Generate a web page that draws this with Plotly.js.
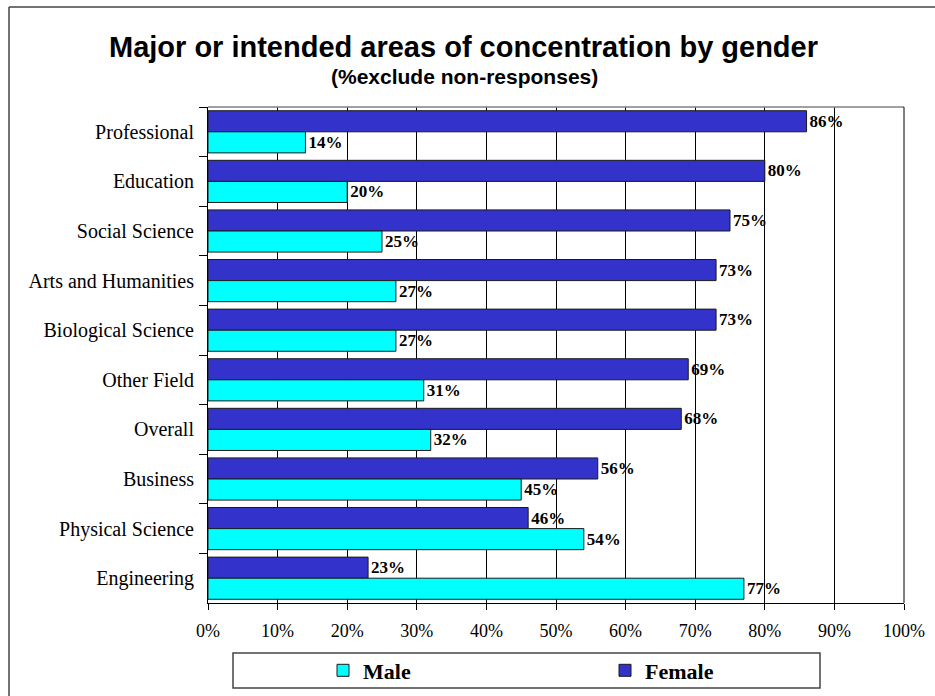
<!DOCTYPE html>
<html>
<head>
<meta charset="utf-8">
<script src="https://cdn.plot.ly/plotly-3.0.1.min.js"></script>
<style>
  html, body { margin: 0; padding: 0; background: #fff; }
  #chart { width: 935px; height: 696px; }
</style>
</head>
<body>
<div id="chart"></div>
<script>
// ---- data (top-to-bottom order as in the reference) ----
var categories = ["Professional", "Education", "Social Science", "Arts and Humanities",
  "Biological Science", "Other Field", "Overall", "Business", "Physical Science", "Engineering"];
var femaleValues = [0.86, 0.80, 0.75, 0.73, 0.73, 0.69, 0.68, 0.56, 0.46, 0.23];
var maleValues   = [0.14, 0.20, 0.25, 0.27, 0.27, 0.31, 0.32, 0.45, 0.54, 0.77];
var xTickValues  = [0, 0.1, 0.2, 0.3, 0.4, 0.5, 0.6, 0.7, 0.8, 0.9, 1.0];
var xTickLabels  = ["0%", "10%", "20%", "30%", "40%", "50%", "60%", "70%", "80%", "90%", "100%"];

var W = 935, H = 696;
var L = 208, R = 904, T = 107, B = 603;
var pw = R - L, ph = B - T;
function px(x) { return (x - L) / pw; }
function py(y) { return (B - y) / ph; }

var serif = "Liberation Serif, Times New Roman, serif";
var sans = "Liberation Sans, Arial, sans-serif";

var labelFont = { family: serif, size: 17, color: "#000", weight: "bold" };
var legendFont = { family: serif, size: 22, color: "#000" };

var traces = [
  {
    type: "bar", orientation: "h", name: "<b>Female</b>", legend: "legend2",
    y: categories, x: femaleValues,
    marker: { color: "#3333CC", line: { color: "#1a1a1a", width: 1 } },
    texttemplate: "<b>%{x:.0%}</b>", textposition: "outside",
    textfont: labelFont, constraintext: "none", cliponaxis: false,
    hoverinfo: "skip"
  },
  {
    type: "bar", orientation: "h", name: "<b>Male</b>", legend: "legend",
    y: categories, x: maleValues,
    marker: { color: "#00FFFF", line: { color: "#1a1a1a", width: 1 } },
    texttemplate: "<b>%{x:.0%}</b>", textposition: "outside",
    textfont: labelFont, constraintext: "none", cliponaxis: false,
    hoverinfo: "skip"
  }
];

var layout = {
  width: W, height: H,
  margin: { l: L, r: W - R, t: T, b: H - B, pad: 0, autoexpand: false },
  paper_bgcolor: "#fff", plot_bgcolor: "#fff",
  barmode: "group", bargap: 0.15, bargroupgap: 0,
  showlegend: true,
  title: {
    text: "Major or intended areas of concentration by gender",
    font: { family: sans, size: 29, color: "#000", weight: "bold" },
    x: 463.5 / W, xanchor: "center", xref: "container",
    y: 1 - 46.5 / H, yanchor: "middle", yref: "container"
  },
  xaxis: {
    range: [0, 1], tickvals: xTickValues, ticktext: xTickLabels,
    showgrid: true, gridcolor: "#000", gridwidth: 1, zeroline: false,
    showline: true, linecolor: "#000", linewidth: 1,
    ticks: "outside", ticklen: 6, tickcolor: "#000", tickwidth: 1,
    tickfont: { family: serif, size: 18, color: "#000" },
    ticklabelstandoff: 5, fixedrange: true
  },
  yaxis: {
    type: "category", autorange: "reversed",
    showline: true, linecolor: "#000", linewidth: 1,
    ticks: "outside", ticklen: 8, tickcolor: "#000", tickwidth: 1,
    tickson: "boundaries", showgrid: false, zeroline: false,
    tickfont: { family: serif, size: 20, color: "#000" },
    ticklabelstandoff: 9, fixedrange: true
  },
  legend: {
    orientation: "h",
    x: 323 / W, xanchor: "left", xref: "container",
    y: 1 - 670.5 / H, yanchor: "middle", yref: "container",
    bgcolor: "rgba(0,0,0,0)", borderwidth: 0,
    font: legendFont
  },
  legend2: {
    orientation: "h",
    x: 605 / W, xanchor: "left", xref: "container",
    y: 1 - 670.5 / H, yanchor: "middle", yref: "container",
    bgcolor: "rgba(0,0,0,0)", borderwidth: 0,
    font: legendFont
  },
  annotations: [
    {
      text: "<b>(%exclude non-responses)</b>",
      xref: "paper", yref: "paper", x: px(464), y: py(76),
      xanchor: "center", yanchor: "middle", showarrow: false,
      font: { family: sans, size: 21, color: "#000" }
    }
  ],
  shapes: [
    // outer chart border (left and top)
    { type: "line", xref: "paper", yref: "paper", x0: px(9), x1: px(9), y0: py(7), y1: py(700),
      line: { color: "#444", width: 1.5 } },
    { type: "line", xref: "paper", yref: "paper", x0: px(9), x1: px(940), y0: py(7), y1: py(7),
      line: { color: "#444", width: 1.5 } },
    // plot area top frame
    { type: "line", xref: "paper", yref: "paper", x0: 0, x1: 1, y0: 1, y1: 1,
      line: { color: "#808080", width: 1.5 } },
    // plot area right frame
    { type: "line", xref: "paper", yref: "paper", x0: 1, x1: 1, y0: 0, y1: 1,
      line: { color: "#000", width: 1 } },
    // legend box
    { type: "rect", xref: "paper", yref: "paper", x0: px(233), x1: px(820), y0: py(688), y1: py(653),
      line: { color: "#444", width: 1.5 }, fillcolor: "rgba(0,0,0,0)", layer: "below" }
  ]
};

Plotly.newPlot("chart", traces, layout, { displayModeBar: false, staticPlot: true });
</script>
</body>
</html>
